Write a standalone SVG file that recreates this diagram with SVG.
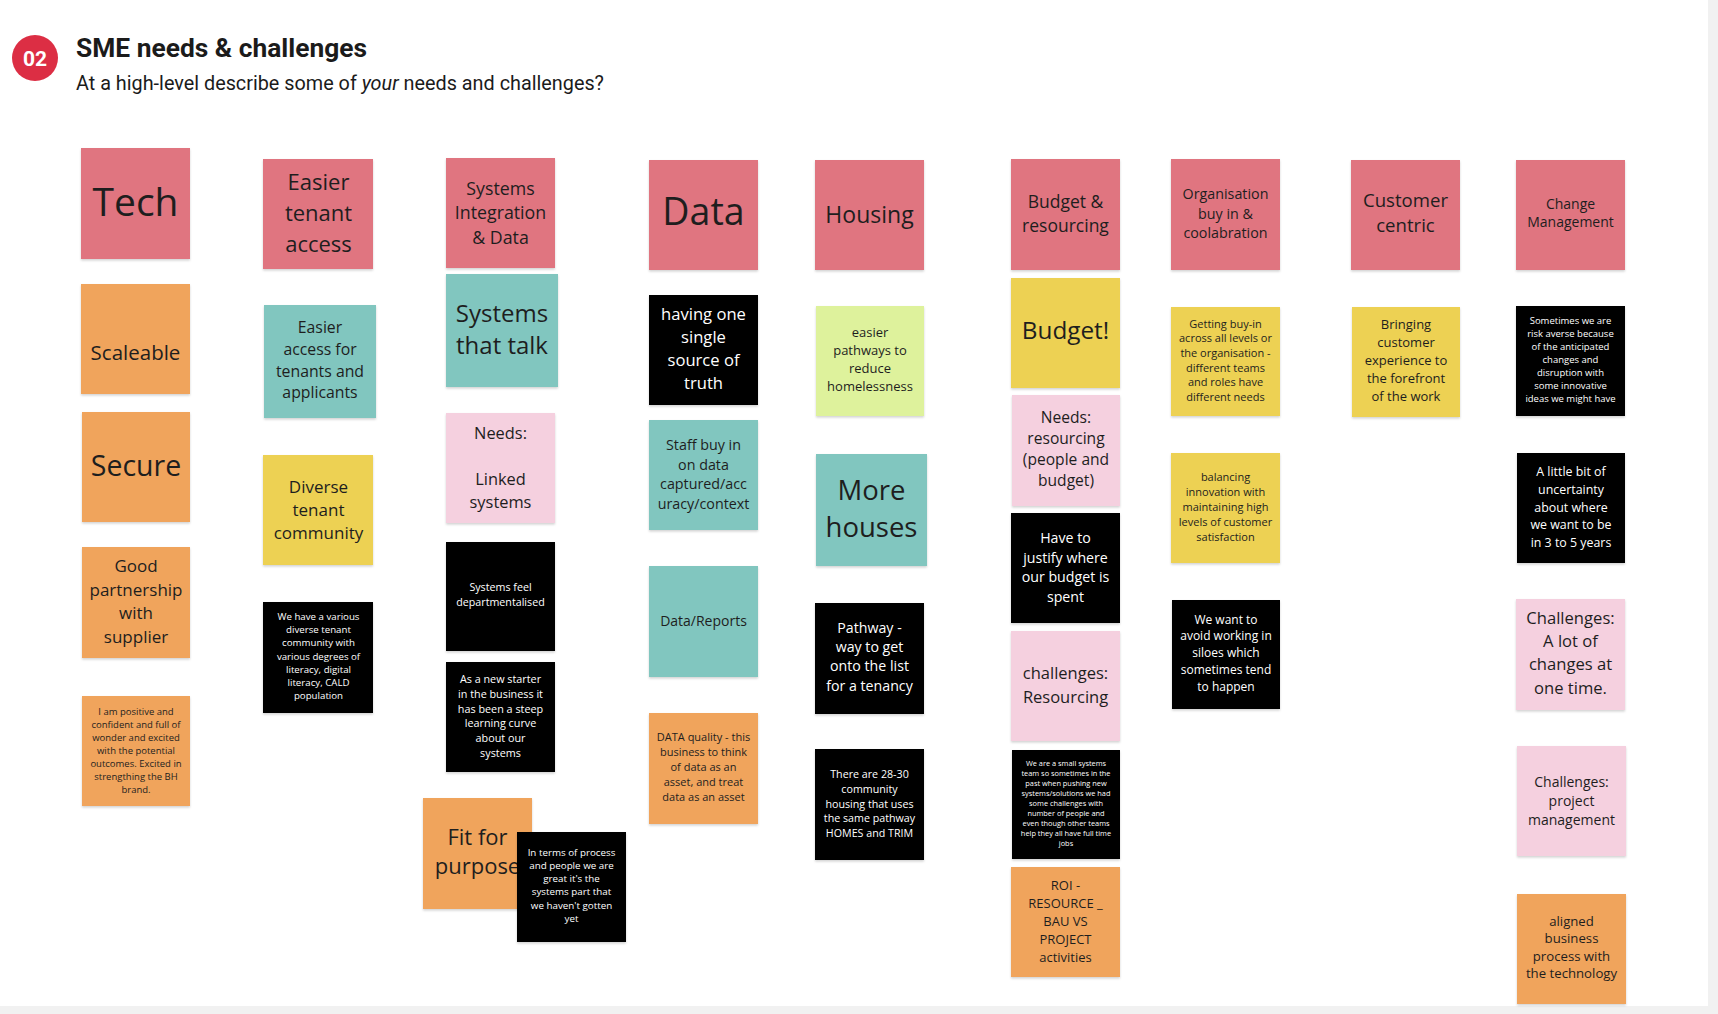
<svg xmlns="http://www.w3.org/2000/svg" width="1718" height="1014" viewBox="0 0 1718 1014">
<defs>
<filter id="sh" x="-10%" y="-10%" width="120%" height="125%"><feDropShadow dx="0" dy="1.5" stdDeviation="1.2" flood-color="#000" flood-opacity="0.18"/></filter>
</defs>
<style>
.n rect{filter:url(#sh)}
.pk{fill:#e07580}.or{fill:#f0a45b}.tl{fill:#81c6bf}.yl{fill:#edd152}.lp{fill:#f5d0df}.gr{fill:#def29c}.bk{fill:#000}
text.d,text.w{font-family:"Open Sans","DejaVu Sans",sans-serif;text-anchor:middle}
text.d{fill:#1e1e1e}
text.w{fill:#fff}
.hd{font-family:Roboto,"Liberation Sans",sans-serif;fill:#1b1b1b}
</style>
<rect width="1718" height="1014" fill="#fff"/>
<rect x="1708" y="0" width="10" height="1014" fill="#f1f1f1"/>
<rect x="0" y="1006" width="1718" height="8" fill="#f1f1f1"/>

<g id="header">
<circle cx="35" cy="58" r="23" fill="#dc2e44"/>
<text x="35" y="65.5" font-family="Roboto,'Liberation Sans',sans-serif" font-weight="700" font-size="21" fill="#fff" text-anchor="middle">02</text>
<text class="hd" x="76" y="57" font-size="26" font-weight="700" textLength="291" lengthAdjust="spacingAndGlyphs">SME needs &amp; challenges</text>
<text class="hd" x="76" y="90" font-size="19.5" textLength="528" lengthAdjust="spacingAndGlyphs">At a high-level describe some of <tspan font-style="italic">your</tspan> needs and challenges?</text>
</g>

<g id="connectors"/>

<!-- Column 1 -->
<g id="tech" class="n"><rect class="pk" x="81" y="148" width="109" height="111"/><text class="d" font-size="39"><tspan x="135.5" y="216">Tech</tspan></text></g>
<g id="scaleable" class="n"><rect class="or" x="81" y="284" width="109" height="110"/><text class="d" font-size="20.5"><tspan x="135.5" y="360">Scaleable</tspan></text></g>
<g id="secure" class="n"><rect class="or" x="82" y="412" width="108" height="110"/><text class="d" font-size="28.5"><tspan x="136" y="476">Secure</tspan></text></g>
<g id="good-partnership" class="n"><rect class="or" x="82" y="547" width="108" height="111"/><text class="d" font-size="17"><tspan x="136" y="572">Good</tspan><tspan x="136" y="595.5">partnership</tspan><tspan x="136" y="619">with</tspan><tspan x="136" y="642.5">supplier</tspan></text></g>
<g id="positive" class="n"><rect class="or" x="82" y="696" width="108" height="110"/><text class="d" font-size="9.5"><tspan x="136" y="715">I am positive and</tspan><tspan x="136" y="728">confident and full of</tspan><tspan x="136" y="741">wonder and excited</tspan><tspan x="136" y="754">with the potential</tspan><tspan x="136" y="767">outcomes. Excited in</tspan><tspan x="136" y="780">strengthing the BH</tspan><tspan x="136" y="793">brand.</tspan></text></g>

<!-- Column 2 -->
<g id="easier-tenant-access" class="n"><rect class="pk" x="263" y="159" width="110" height="110"/><text class="d" font-size="22"><tspan x="318.5" y="190">Easier</tspan><tspan x="318.5" y="221">tenant</tspan><tspan x="318.5" y="251.5">access</tspan></text></g>
<g id="easier-access" class="n"><rect class="tl" x="264" y="305" width="112" height="113"/><text class="d" font-size="15.8"><tspan x="320" y="333">Easier</tspan><tspan x="320" y="355">access for</tspan><tspan x="320" y="376.7">tenants and</tspan><tspan x="320" y="398.4">applicants</tspan></text></g>
<g id="diverse" class="n"><rect class="yl" x="263" y="455" width="110" height="110"/><text class="d" font-size="17"><tspan x="318.5" y="492.5">Diverse</tspan><tspan x="318.5" y="515.5">tenant</tspan><tspan x="318.5" y="538.5">community</tspan></text></g>
<g id="various" class="n"><rect class="bk" x="263" y="602" width="110" height="111"/><text class="w" font-size="9.7"><tspan x="318.5" y="620">We have a various</tspan><tspan x="318.5" y="633.2">diverse tenant</tspan><tspan x="318.5" y="646.4">community with</tspan><tspan x="318.5" y="659.6">various degrees of</tspan><tspan x="318.5" y="672.8">literacy, digital</tspan><tspan x="318.5" y="686">literacy, CALD</tspan><tspan x="318.5" y="699.2">population</tspan></text></g>

<!-- Column 3 -->
<g id="systems-integration" class="n"><rect class="pk" x="446" y="158" width="109" height="110"/><text class="d" font-size="17.8"><tspan x="500.5" y="195">Systems</tspan><tspan x="500.5" y="219.4">Integration</tspan><tspan x="500.5" y="243.8">&amp; Data</tspan></text></g>
<g id="systems-talk" class="n"><rect class="tl" x="446" y="274" width="112" height="113"/><text class="d" font-size="24"><tspan x="502" y="322">Systems</tspan><tspan x="502" y="354.4">that talk</tspan></text></g>
<g id="linked-systems" class="n"><rect class="lp" x="446" y="413" width="109" height="110"/><text class="d" font-size="16.4"><tspan x="500.5" y="439">Needs:</tspan><tspan x="500.5" y="485">Linked</tspan><tspan x="500.5" y="507.5">systems</tspan></text></g>
<g id="departmentalised" class="n"><rect class="bk" x="446" y="542" width="109" height="109"/><text class="w" font-size="10.7"><tspan x="500.5" y="591">Systems feel</tspan><tspan x="500.5" y="605.6">departmentalised</tspan></text></g>
<g id="new-starter" class="n"><rect class="bk" x="446" y="662" width="109" height="110"/><text class="w" font-size="10.8"><tspan x="500.5" y="683">As a new starter</tspan><tspan x="500.5" y="697.8">in the business it</tspan><tspan x="500.5" y="712.6">has been a steep</tspan><tspan x="500.5" y="727.4">learning curve</tspan><tspan x="500.5" y="742.2">about our</tspan><tspan x="500.5" y="757">systems</tspan></text></g>
<g id="fit-for-purpose" class="n"><rect class="or" x="423" y="798" width="109" height="111"/><text class="d" font-size="22"><tspan x="477.5" y="844.5">Fit for</tspan><tspan x="477.5" y="873.5">purpose</tspan></text></g>
<g id="process-people" class="n"><rect class="bk" x="517" y="832" width="109" height="110"/><text class="w" font-size="9.8"><tspan x="571.5" y="855.5">In terms of process</tspan><tspan x="571.5" y="868.8">and people we are</tspan><tspan x="571.5" y="882.1">great it's the</tspan><tspan x="571.5" y="895.4">systems part that</tspan><tspan x="571.5" y="908.7">we haven't gotten</tspan><tspan x="571.5" y="922">yet</tspan></text></g>

<!-- Column 4 -->
<g id="data" class="n"><rect class="pk" x="649" y="160" width="109" height="110"/><text class="d" font-size="37.5"><tspan x="703.5" y="225">Data</tspan></text></g>
<g id="single-source" class="n"><rect class="bk" x="649" y="295" width="109" height="110"/><text class="w" font-size="16.6"><tspan x="703.5" y="319.5">having one</tspan><tspan x="703.5" y="342.6">single</tspan><tspan x="703.5" y="365.7">source of</tspan><tspan x="703.5" y="388.8">truth</tspan></text></g>
<g id="staff-buy-in" class="n"><rect class="tl" x="649" y="420" width="109" height="110"/><text class="d" font-size="14.3"><tspan x="703.5" y="450">Staff buy in</tspan><tspan x="703.5" y="469.6">on data</tspan><tspan x="703.5" y="489.2">captured/acc</tspan><tspan x="703.5" y="508.8">uracy/context</tspan></text></g>
<g id="data-reports" class="n"><rect class="tl" x="649" y="566" width="109" height="111"/><text class="d" font-size="14"><tspan x="703.5" y="625.5">Data/Reports</tspan></text></g>
<g id="data-quality" class="n"><rect class="or" x="649" y="713" width="109" height="111"/><text class="d" font-size="11"><tspan x="703.5" y="740.5">DATA quality - this</tspan><tspan x="703.5" y="755.6">business to think</tspan><tspan x="703.5" y="770.7">of data as an</tspan><tspan x="703.5" y="785.8">asset, and treat</tspan><tspan x="703.5" y="800.9">data as an asset</tspan></text></g>

<!-- Column 5 -->
<g id="housing" class="n"><rect class="pk" x="815" y="160" width="109" height="110"/><text class="d" font-size="23"><tspan x="869.5" y="223">Housing</tspan></text></g>
<g id="easier-pathways" class="n"><rect class="gr" x="816" y="306" width="108" height="110"/><text class="d" font-size="13"><tspan x="870" y="337">easier</tspan><tspan x="870" y="355">pathways to</tspan><tspan x="870" y="373">reduce</tspan><tspan x="870" y="391">homelessness</tspan></text></g>
<g id="more-houses" class="n"><rect class="tl" x="816" y="454" width="111" height="112"/><text class="d" font-size="27.5"><tspan x="871.5" y="499.5">More</tspan><tspan x="871.5" y="537">houses</tspan></text></g>
<g id="pathway-tenancy" class="n"><rect class="bk" x="815" y="603" width="109" height="111"/><text class="w" font-size="14.2"><tspan x="869.5" y="632.7">Pathway -</tspan><tspan x="869.5" y="652">way to get</tspan><tspan x="869.5" y="671.3">onto the list</tspan><tspan x="869.5" y="690.6">for a tenancy</tspan></text></g>
<g id="community-housing" class="n"><rect class="bk" x="815" y="749" width="109" height="111"/><text class="w" font-size="10.7"><tspan x="869.5" y="778">There are 28-30</tspan><tspan x="869.5" y="792.8">community</tspan><tspan x="869.5" y="807.6">housing that uses</tspan><tspan x="869.5" y="822.4">the same pathway</tspan><tspan x="869.5" y="837.2">HOMES and TRIM</tspan></text></g>

<!-- Column 6 -->
<g id="budget-resourcing" class="n"><rect class="pk" x="1011" y="159" width="109" height="111"/><text class="d" font-size="17.5"><tspan x="1065.5" y="208">Budget &amp;</tspan><tspan x="1065.5" y="232">resourcing</tspan></text></g>
<g id="budget" class="n"><rect class="yl" x="1011" y="278" width="109" height="110"/><text class="d" font-size="24.3"><tspan x="1065.5" y="339">Budget!</tspan></text></g>
<g id="needs-resourcing" class="n"><rect class="lp" x="1012" y="395" width="108" height="111"/><text class="d" font-size="15.6"><tspan x="1066" y="422.8">Needs:</tspan><tspan x="1066" y="444">resourcing</tspan><tspan x="1066" y="465.2">(people and</tspan><tspan x="1066" y="486.4">budget)</tspan></text></g>
<g id="justify-budget" class="n"><rect class="bk" x="1011" y="513" width="109" height="110"/><text class="w" font-size="14.2"><tspan x="1065.5" y="543">Have to</tspan><tspan x="1065.5" y="562.5">justify where</tspan><tspan x="1065.5" y="582">our budget is</tspan><tspan x="1065.5" y="601.5">spent</tspan></text></g>
<g id="challenges-resourcing" class="n"><rect class="lp" x="1011" y="631" width="109" height="110"/><text class="d" font-size="16.5"><tspan x="1065.5" y="679">challenges:</tspan><tspan x="1065.5" y="702.5">Resourcing</tspan></text></g>
<g id="small-team" class="n"><rect class="bk" x="1012" y="750" width="108" height="109"/><text class="w" font-size="7.4"><tspan x="1066" y="765.6">We are a small systems</tspan><tspan x="1066" y="775.7">team so sometimes in the</tspan><tspan x="1066" y="785.8">past when pushing new</tspan><tspan x="1066" y="795.9">systems/solutions we had</tspan><tspan x="1066" y="806">some challenges with</tspan><tspan x="1066" y="816.1">number of people and</tspan><tspan x="1066" y="826.2">even though other teams</tspan><tspan x="1066" y="836.3">help they all have full time</tspan><tspan x="1066" y="846.4">jobs</tspan></text></g>
<g id="roi" class="n"><rect class="or" x="1011" y="867" width="109" height="110"/><text class="d" font-size="13"><tspan x="1065.5" y="890">ROI -</tspan><tspan x="1065.5" y="908">RESOURCE _</tspan><tspan x="1065.5" y="926">BAU VS</tspan><tspan x="1065.5" y="944">PROJECT</tspan><tspan x="1065.5" y="962">activities</tspan></text></g>

<!-- Column 7 -->
<g id="organisation" class="n"><rect class="pk" x="1171" y="159" width="109" height="111"/><text class="d" font-size="14.3"><tspan x="1225.5" y="199">Organisation</tspan><tspan x="1225.5" y="218.6">buy in &amp;</tspan><tspan x="1225.5" y="238.2">coolabration</tspan></text></g>
<g id="getting-buy-in" class="n"><rect class="yl" x="1171" y="307" width="109" height="109"/><text class="d" font-size="11"><tspan x="1225.5" y="327.5">Getting buy-in</tspan><tspan x="1225.5" y="342.2">across all levels or</tspan><tspan x="1225.5" y="356.9">the organisation -</tspan><tspan x="1225.5" y="371.6">different teams</tspan><tspan x="1225.5" y="386.3">and roles have</tspan><tspan x="1225.5" y="401">different needs</tspan></text></g>
<g id="balancing" class="n"><rect class="yl" x="1171" y="453" width="109" height="110"/><text class="d" font-size="11"><tspan x="1225.5" y="481">balancing</tspan><tspan x="1225.5" y="496">innovation with</tspan><tspan x="1225.5" y="511">maintaining high</tspan><tspan x="1225.5" y="526">levels of customer</tspan><tspan x="1225.5" y="541">satisfaction</tspan></text></g>
<g id="siloes" class="n"><rect class="bk" x="1172" y="600" width="108" height="109"/><text class="w" font-size="12"><tspan x="1226" y="623.7">We want to</tspan><tspan x="1226" y="640.4">avoid working in</tspan><tspan x="1226" y="657.1">siloes which</tspan><tspan x="1226" y="673.8">sometimes tend</tspan><tspan x="1226" y="690.5">to happen</tspan></text></g>

<!-- Column 8 -->
<g id="customer-centric" class="n"><rect class="pk" x="1351" y="160" width="109" height="110"/><text class="d" font-size="18.6"><tspan x="1405.5" y="207">Customer</tspan><tspan x="1405.5" y="232">centric</tspan></text></g>
<g id="bringing-customer" class="n"><rect class="yl" x="1352" y="307" width="108" height="110"/><text class="d" font-size="13"><tspan x="1406" y="328.8">Bringing</tspan><tspan x="1406" y="346.8">customer</tspan><tspan x="1406" y="364.8">experience to</tspan><tspan x="1406" y="382.8">the forefront</tspan><tspan x="1406" y="400.8">of the work</tspan></text></g>

<!-- Column 9 -->
<g id="change-management" class="n"><rect class="pk" x="1516" y="160" width="109" height="110"/><text class="d" font-size="14"><tspan x="1570.5" y="208.5">Change</tspan><tspan x="1570.5" y="227.1">Management</tspan></text></g>
<g id="risk-averse" class="n"><rect class="bk" x="1516" y="306" width="109" height="110"/><text class="w" font-size="9.5"><tspan x="1570.5" y="324">Sometimes we are</tspan><tspan x="1570.5" y="337">risk averse because</tspan><tspan x="1570.5" y="350">of the anticipated</tspan><tspan x="1570.5" y="363">changes and</tspan><tspan x="1570.5" y="376">disruption with</tspan><tspan x="1570.5" y="389">some innovative</tspan><tspan x="1570.5" y="402">ideas we might have</tspan></text></g>
<g id="uncertainty" class="n"><rect class="bk" x="1517" y="453" width="108" height="110"/><text class="w" font-size="12.4"><tspan x="1571" y="476">A little bit of</tspan><tspan x="1571" y="493.8">uncertainty</tspan><tspan x="1571" y="511.6">about where</tspan><tspan x="1571" y="529.4">we want to be</tspan><tspan x="1571" y="547.2">in 3 to 5 years</tspan></text></g>
<g id="lot-of-changes" class="n"><rect class="lp" x="1516" y="599" width="109" height="111"/><text class="d" font-size="16.6"><tspan x="1570.5" y="624">Challenges:</tspan><tspan x="1570.5" y="647.2">A lot of</tspan><tspan x="1570.5" y="670.4">changes at</tspan><tspan x="1570.5" y="693.6">one time.</tspan></text></g>
<g id="project-management" class="n"><rect class="lp" x="1517" y="746" width="109" height="110"/><text class="d" font-size="14"><tspan x="1571.5" y="786.6">Challenges:</tspan><tspan x="1571.5" y="805.6">project</tspan><tspan x="1571.5" y="824.6">management</tspan></text></g>
<g id="aligned-business" class="n"><rect class="or" x="1517" y="894" width="109" height="110"/><text class="d" font-size="13.2"><tspan x="1571.5" y="925.5">aligned</tspan><tspan x="1571.5" y="943.1">business</tspan><tspan x="1571.5" y="960.7">process with</tspan><tspan x="1571.5" y="978.3">the technology</tspan></text></g>
</svg>
